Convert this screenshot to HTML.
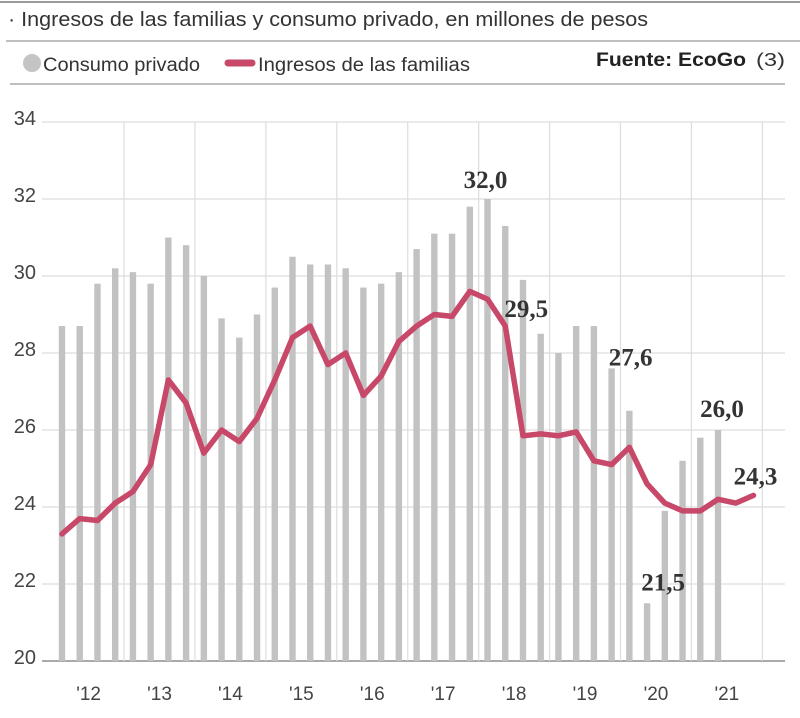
<!DOCTYPE html>
<html><head><meta charset="utf-8"><style>
body{margin:0;background:#fff;}
svg{display:block;}
</style></head><body>
<svg id="chart" width="800" height="718" xmlns="http://www.w3.org/2000/svg">
<line x1="0" y1="2" x2="800" y2="2" stroke="#9a9a9a" stroke-width="2"/>
<text x="8" y="26" font-family="Liberation Sans, sans-serif" font-size="20" fill="#333" textLength="640" lengthAdjust="spacingAndGlyphs">· Ingresos de las familias y consumo privado, en millones de pesos</text>
<line x1="6" y1="41" x2="800" y2="41" stroke="#aaa" stroke-width="1.5"/>
<g>
<circle cx="32" cy="63" r="9" fill="#c4c4c4"/>
<text x="43" y="71" font-family="Liberation Sans, sans-serif" font-size="19" fill="#333" textLength="157" lengthAdjust="spacingAndGlyphs">Consumo privado</text>
<line x1="228" y1="63" x2="252" y2="63" stroke="#c8486a" stroke-width="7" stroke-linecap="round"/>
<text x="258" y="71" font-family="Liberation Sans, sans-serif" font-size="19" fill="#333" textLength="212" lengthAdjust="spacingAndGlyphs">Ingresos de las familias</text>
</g>
<text x="596" y="66" font-family="Liberation Sans, sans-serif" font-size="19" font-weight="bold" fill="#222" textLength="150" lengthAdjust="spacingAndGlyphs">Fuente: EcoGo</text>
<text x="756" y="66" font-family="Liberation Sans, sans-serif" font-size="18" fill="#333" textLength="29" lengthAdjust="spacingAndGlyphs">(3)</text>
<line x1="10" y1="84" x2="785" y2="84" stroke="#aaa" stroke-width="1.5"/>
<g id="grid"></g>
<g id="bars"></g>
<g id="lineg"></g>
<g id="labels"></g>
</svg>
<script>
var years=["'12","'13","'14","'15","'16","'17","'18","'19","'20","'21"];
var yTicks=[20,22,24,26,28,30,32,34];
var consumo=[28.7,28.7,29.8,30.2,30.1,29.8,31.0,30.8,30.0,28.9,28.4,29.0,29.7,30.5,30.3,30.3,30.2,29.7,29.8,30.1,30.7,31.1,31.1,31.8,32.0,31.3,29.9,28.5,28.0,28.7,28.7,27.6,26.5,21.5,23.9,25.2,25.8,26.0];
var ingresos=[23.3,23.7,23.65,24.1,24.4,25.1,27.3,26.7,25.4,26.0,25.7,26.3,27.3,28.4,28.7,27.7,28.0,26.9,27.4,28.3,28.7,29.0,28.95,29.6,29.4,28.7,25.85,25.9,25.85,25.95,25.2,25.1,25.55,24.6,24.1,23.9,23.9,24.2,24.1,24.3];
var annotLabels=["32,0","29,5","27,6","21,5","26,0","24,3"];
var annotIdx=[24,25,31,33,37,39];
var annotSeries=["c","i","c","c","c","i"];

var NS="http://www.w3.org/2000/svg";
function X(i){return 62+i*17.73;}
function Y(v){return 661-(v-20)*38.5;}
function mk(t,a,p){var e=document.createElementNS(NS,t);for(var k in a)e.setAttribute(k,a[k]);p.appendChild(e);return e;}
var grid=document.getElementById('grid'),bars=document.getElementById('bars'),lg=document.getElementById('lineg'),lb=document.getElementById('labels');
yTicks.forEach(function(v){
  var l=mk('line',{x1:42,x2:785,y1:Y(v),y2:Y(v),stroke:v===20?'#aaa':'#ddd','stroke-width':v===20?2:1.2},grid);
  
  
  var t=mk('text',{x:36,y:Y(v)+3,'text-anchor':'end','font-family':'Liberation Sans, sans-serif','font-size':20,fill:'#444'},grid);
  t.textContent=v;
  
  
});
years.forEach(function(y,k){
  if(k>0){
    var l=mk('line',{x1:X(4*k-0.5),x2:X(4*k-0.5),y1:Y(34),y2:Y(20),stroke:'#ddd','stroke-width':1.2},grid);
    
    
  }
  var t=mk('text',{x:X(4*k+1.5),y:700,'text-anchor':'middle','font-family':'Liberation Sans, sans-serif','font-size':19,fill:'#444'},grid);
  t.textContent=y;
  
  
});
var lt=mk('line',{x1:X(39.5),x2:X(39.5),y1:Y(34),y2:Y(20),stroke:'#ddd','stroke-width':1.2},grid);


consumo.forEach(function(v,i){
  var r=mk('rect',{x:X(i)-3.2,y:Y(v),width:6.4,height:Y(20)-Y(v),fill:'#c2c2c2'},bars);
  
  
});
var d=ingresos.map(function(v,i){return (i?'L':'M')+X(i).toFixed(1)+' '+Y(v).toFixed(1);}).join(' ');
var p=mk('path',{d:d,fill:'none',stroke:'#c8486a','stroke-width':5.5,'stroke-linejoin':'round','stroke-linecap':'round'},lg);


var offs=[[-2,-11],[21,-9],[19,-3],[16,-13],[4,-13],[2,-11]];
annotLabels.forEach(function(s,k){
  var i=annotIdx[k];var v=annotSeries[k]==='c'?consumo[i]:ingresos[i];
  var t=mk('text',{x:X(i)+offs[k][0],y:Y(v)+offs[k][1],'text-anchor':'middle','font-family':'Liberation Serif, serif','font-size':25,'font-weight':'bold',fill:'#333'},lb);
  t.textContent=s;
  
  
});
</script>
</body></html>
